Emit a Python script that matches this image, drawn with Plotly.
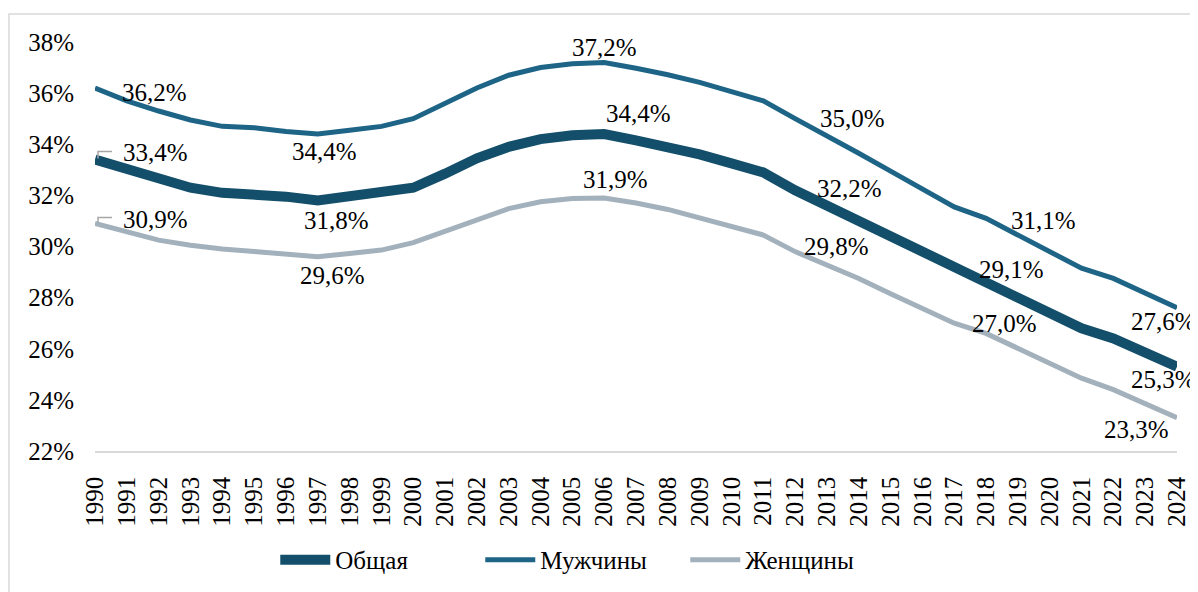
import plotly.graph_objects as go

years = list(range(1990, 2025))

total = [33.4, 33.0, 32.6, 32.3, 32.1, 32.05, 31.95, 31.8, 31.95, 32.1,
         32.3, 32.85, 33.45, 33.9, 34.2, 34.35, 34.4, 34.15, 33.9, 33.6,
         33.25, 32.9, 32.2, 31.6, 31.0, 30.35, 29.7, 29.1, 28.55, 27.95,
         27.3, 26.8, 26.4, 25.9, 25.3]

men = [36.2, 35.7, 35.3, 34.95, 34.7, 34.65, 34.5, 34.4, 34.55, 34.7,
       35.0, 35.6, 36.2, 36.7, 37.0, 37.15, 37.2, 36.97, 36.72, 36.42,
       36.07, 35.7, 35.0, 34.35, 33.65, 32.95, 32.25, 31.55, 31.1, 30.45,
       29.8, 29.15, 28.75, 28.15, 27.6]

women = [30.9, 30.58, 30.25, 30.05, 29.9, 29.8, 29.7, 29.6, 29.73, 29.86,
         30.15, 30.6, 31.05, 31.48, 31.75, 31.88, 31.9, 31.7, 31.45, 31.13,
         30.8, 30.45, 29.8, 29.3, 28.75, 28.15, 27.6, 27.0, 26.6, 26.0,
         25.45, 24.85, 24.4, 23.85, 23.3]

names = ["Общая", "Мужчины", "Женщины"]
y_ticks = [22, 24, 26, 28, 30, 32, 34, 36, 38]

# labelled years per series
total_label_years = [1990, 1997, 2006, 2012, 2017, 2024]
men_label_years = [1990, 1997, 2006, 2012, 2018, 2024]
women_label_years = [1990, 1997, 2006, 2012, 2017, 2024]

FONT = "Times New Roman, Liberation Serif, DejaVu Serif, serif"
C_TOTAL = "#134F6A"
C_MEN = "#1D6486"
C_WOMEN = "#A3B1BC"

fig = go.Figure()
fig.add_trace(go.Scatter(x=years, y=total, name=names[0], mode="lines",
                         line=dict(color=C_TOTAL, width=10)))
fig.add_trace(go.Scatter(x=years, y=men, name=names[1], mode="lines",
                         line=dict(color=C_MEN, width=5)))
fig.add_trace(go.Scatter(x=years, y=women, name=names[2], mode="lines",
                         line=dict(color=C_WOMEN, width=5)))

def fmt(v):
    return f"{v:.1f}%".replace(".", ",")

# label offsets (pixels: dx right, dy down) for each labelled point
total_off = [(60, -7), (19, 20), (34, -21), (54, -2), (57, 0), (-14, 13)]
men_off = [(59, 4), (7, 17), (0, -15), (57, 0), (57, 2), (-14, 14)]
women_off = [(60, -4), (15, 19), (11, -18), (41, -5), (50, 0), (-41, 12)]

annotations = []
for series, lyears, offs in [(total, total_label_years, total_off),
                             (men, men_label_years, men_off),
                             (women, women_label_years, women_off)]:
    for yr, (dx, dy) in zip(lyears, offs):
        v = series[years.index(yr)]
        annotations.append(dict(x=yr, y=v, text=fmt(v), showarrow=False,
                                xshift=dx, yshift=-dy, xanchor="center",
                                yanchor="middle",
                                font=dict(family=FONT, size=25, color="black")))

shapes = []
# leader brackets for the first labels
for v, top in [(total[0], 8), (women[0], 6)]:
    shapes.append(dict(type="path", xref="x", yref="y",
                       xsizemode="pixel", ysizemode="pixel",
                       xanchor=years[0], yanchor=v,
                       path=f"M3,1 L3,{top} L17,{top}",
                       line=dict(color="#A6A6A6", width=1.5)))

# chart-area border (Excel style)
shapes.append(dict(type="rect", xref="paper", yref="paper",
                   x0=-0.0795, x1=1.2, y0=-0.6, y1=1.0685,
                   line=dict(color="#D9D9D9", width=1.5),
                   fillcolor="rgba(0,0,0,0)", layer="below"))

fig.update_layout(
    width=1190, height=584,
    margin=dict(l=87, r=21, t=34, b=141, autoexpand=False),
    paper_bgcolor="white", plot_bgcolor="white",
    font=dict(family=FONT, size=25, color="black"),
    showlegend=True,
    legend=dict(orientation="h", xref="container", yref="container",
                x=0.483, xanchor="center", y=0.0548, yanchor="middle",
                font=dict(family=FONT, size=25, color="black"),
                itemwidth=50, traceorder="normal",
                entrywidth=140, entrywidthmode="pixels"),
    annotations=annotations,
    shapes=shapes,
)
fig.update_xaxes(range=[1990, 2024], tickmode="array", tickvals=years,
                 ticktext=[str(y) for y in years], tickangle=-90,
                 showgrid=False, zeroline=False, showline=True,
                 linecolor="#D9D9D9", linewidth=1.5, ticks="",
                 ticklabelstandoff=14, automargin=False,
                 tickfont=dict(family=FONT, size=25, color="black"))
fig.update_yaxes(range=[22, 38], tickmode="array", tickvals=y_ticks,
                 ticktext=[f"{t}%" for t in y_ticks],
                 showgrid=False, zeroline=False, showline=False, ticks="",
                 ticklabelstandoff=20, automargin=False,
                 tickfont=dict(family=FONT, size=25, color="black"))

fig.write_html("out.html")
